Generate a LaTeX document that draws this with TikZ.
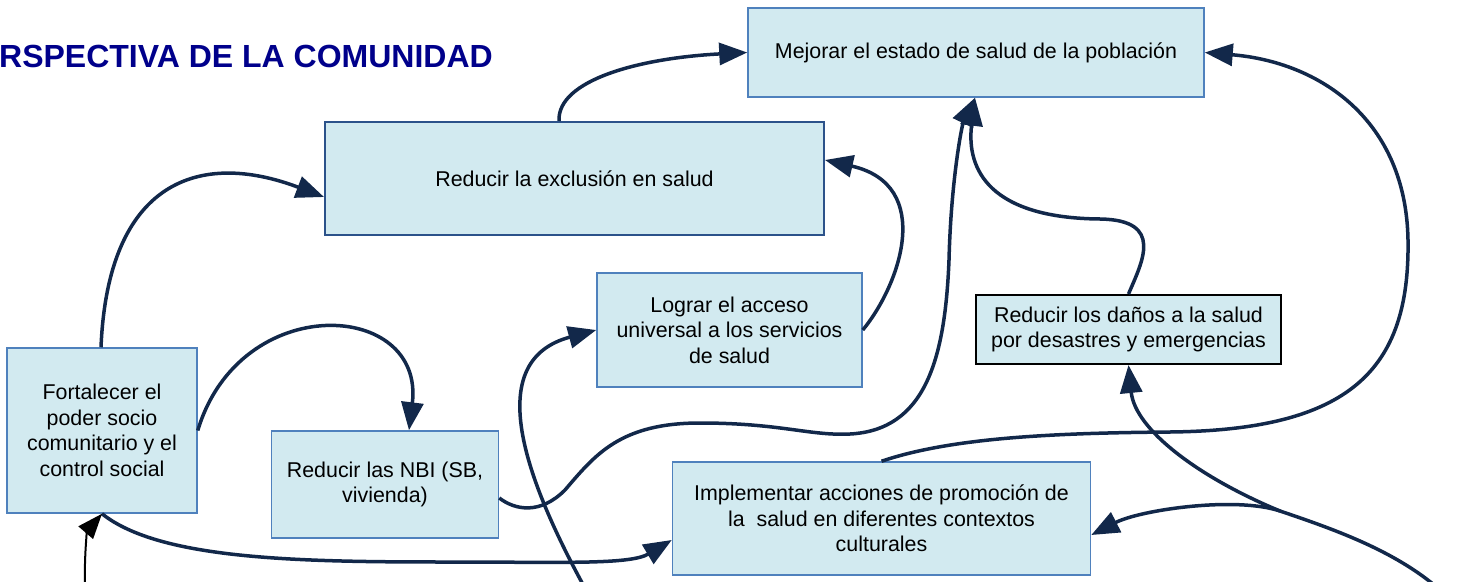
\documentclass[tikz,border=0pt]{standalone}
\usepackage{fontspec}
\setmainfont{Liberation Sans}
\usetikzlibrary{arrows.meta,calc}
\definecolor{boxfill}{RGB}{210,234,240}
\definecolor{boxline}{RGB}{79,129,189}
\definecolor{boxdark}{RGB}{44,82,138}
\definecolor{conn}{RGB}{18,40,74}
\definecolor{titleblue}{RGB}{0,0,139}
\begin{document}
\begin{tikzpicture}[x=1pt,y=-1pt,
  box/.style={draw=boxline, line width=1.5pt, fill=boxfill, align=center, inner sep=0pt,
    font=\fontsize{21.4}{25.5}\selectfont},
  link/.style={draw=conn, line width=3.5pt, -{Triangle[length=28pt,width=22pt]}},
  blacklink/.style={draw=black, line width=2pt, -{Triangle[length=25pt,width=19pt]}}]
\useasboundingbox (0,0) rectangle (1475,581);

\node[anchor=base west, inner sep=0pt, text=titleblue,
  font=\fontsize{32}{36}\selectfont\bfseries] (title) at (-1,67) {RSPECTIVA DE LA COMUNIDAD};

\node[box, minimum width=456pt, minimum height=89pt] (mej) at (976,52.5)
  {Mejorar el estado de salud de la población};
\node[box, draw=boxdark, line width=2pt, minimum width=499pt, minimum height=113pt] (excl) at (574.5,178.5)
  {Reducir la exclusión en salud};
\node[box, minimum width=265pt, minimum height=114pt] (lograr) at (729.5,330)
  {Lograr el acceso\\universal a los servicios\\de salud};
\node[box, draw=black, line width=2pt, minimum width=305pt, minimum height=69pt] (danos) at (1128.5,329.5)
  {Reducir los daños a la salud\\por desastres y emergencias};
\node[box, minimum width=190pt, minimum height=165pt] (fort) at (102,430.5)
  {Fortalecer el\\poder socio\\comunitario y el\\control social};
\node[box, minimum width=227pt, minimum height=107pt] (nbi) at (385,484.5)
  {Reducir las NBI (SB,\\vivienda)};
\node[box, minimum width=418pt, minimum height=113pt] (impl) at (881.5,518.5)
  {Implementar acciones de promoción de\\la\ \ salud en diferentes contextos\\culturales};

\coordinate (srcF) at (586,590);
\coordinate (srcH) at (85,590);
\coordinate (srcJ) at (1440,590);
\coordinate (split) at (1280,511);

\draw[link] ([xshift=-15.5pt]excl.north) .. controls (557,80) and (640,58) .. (mej.west);
\draw[link] ([xshift=-1pt]fort.north) .. controls (108,180) and (200,150) .. ([yshift=-18.5pt]excl.west);
\draw[link] (fort.east) .. controls (240,290) and (425,300) .. ([xshift=24pt]nbi.north);
\draw[link] ([yshift=-13.5pt]nbi.east) .. controls (515,510) and (540,515) .. (565,490)
  .. controls (595,455) and (620,423) .. (700,423)
  .. controls (780,423) and (810,436) .. (850,434)
  .. controls (925,430) and (945,360) .. (949,260)
  .. controls (951,180) and (962,125) .. ([xshift=-1pt]mej.south);
\draw[link] (lograr.east) .. controls (900,285) and (935,185) .. ([yshift=18.5pt]excl.east);
\draw[link] (srcF) .. controls (520,470) and (485,360) .. (lograr.west);
\draw[link] (fort.south) .. controls (160,560) and (300,562) .. (450,562)
  .. controls (560,562) and (630,565) .. ([yshift=-21.5pt]impl.west);
\draw[blacklink] (srcH) .. controls (84,548) and (88,530) .. (fort.south);
\draw[link] (impl.north) .. controls (950,438) and (1050,433) .. (1170,432)
  .. controls (1350,430) and (1410,370) .. (1408,240)
  .. controls (1406,120) and (1320,62) .. (mej.east);
\draw[link] (srcJ) .. controls (1395,550) and (1330,528) .. (split)
  .. controls (1235,496) and (1140,510) .. ([yshift=-16.5pt]impl.east);
\draw[link] (split) .. controls (1200,478) and (1135,430) .. (danos.south);
\draw[link] (danos.north) .. controls (1142,262) and (1165,220) .. (1100,219)
  .. controls (990,218) and (966,170) .. ([xshift=-1pt]mej.south);
\end{tikzpicture}
\end{document}
